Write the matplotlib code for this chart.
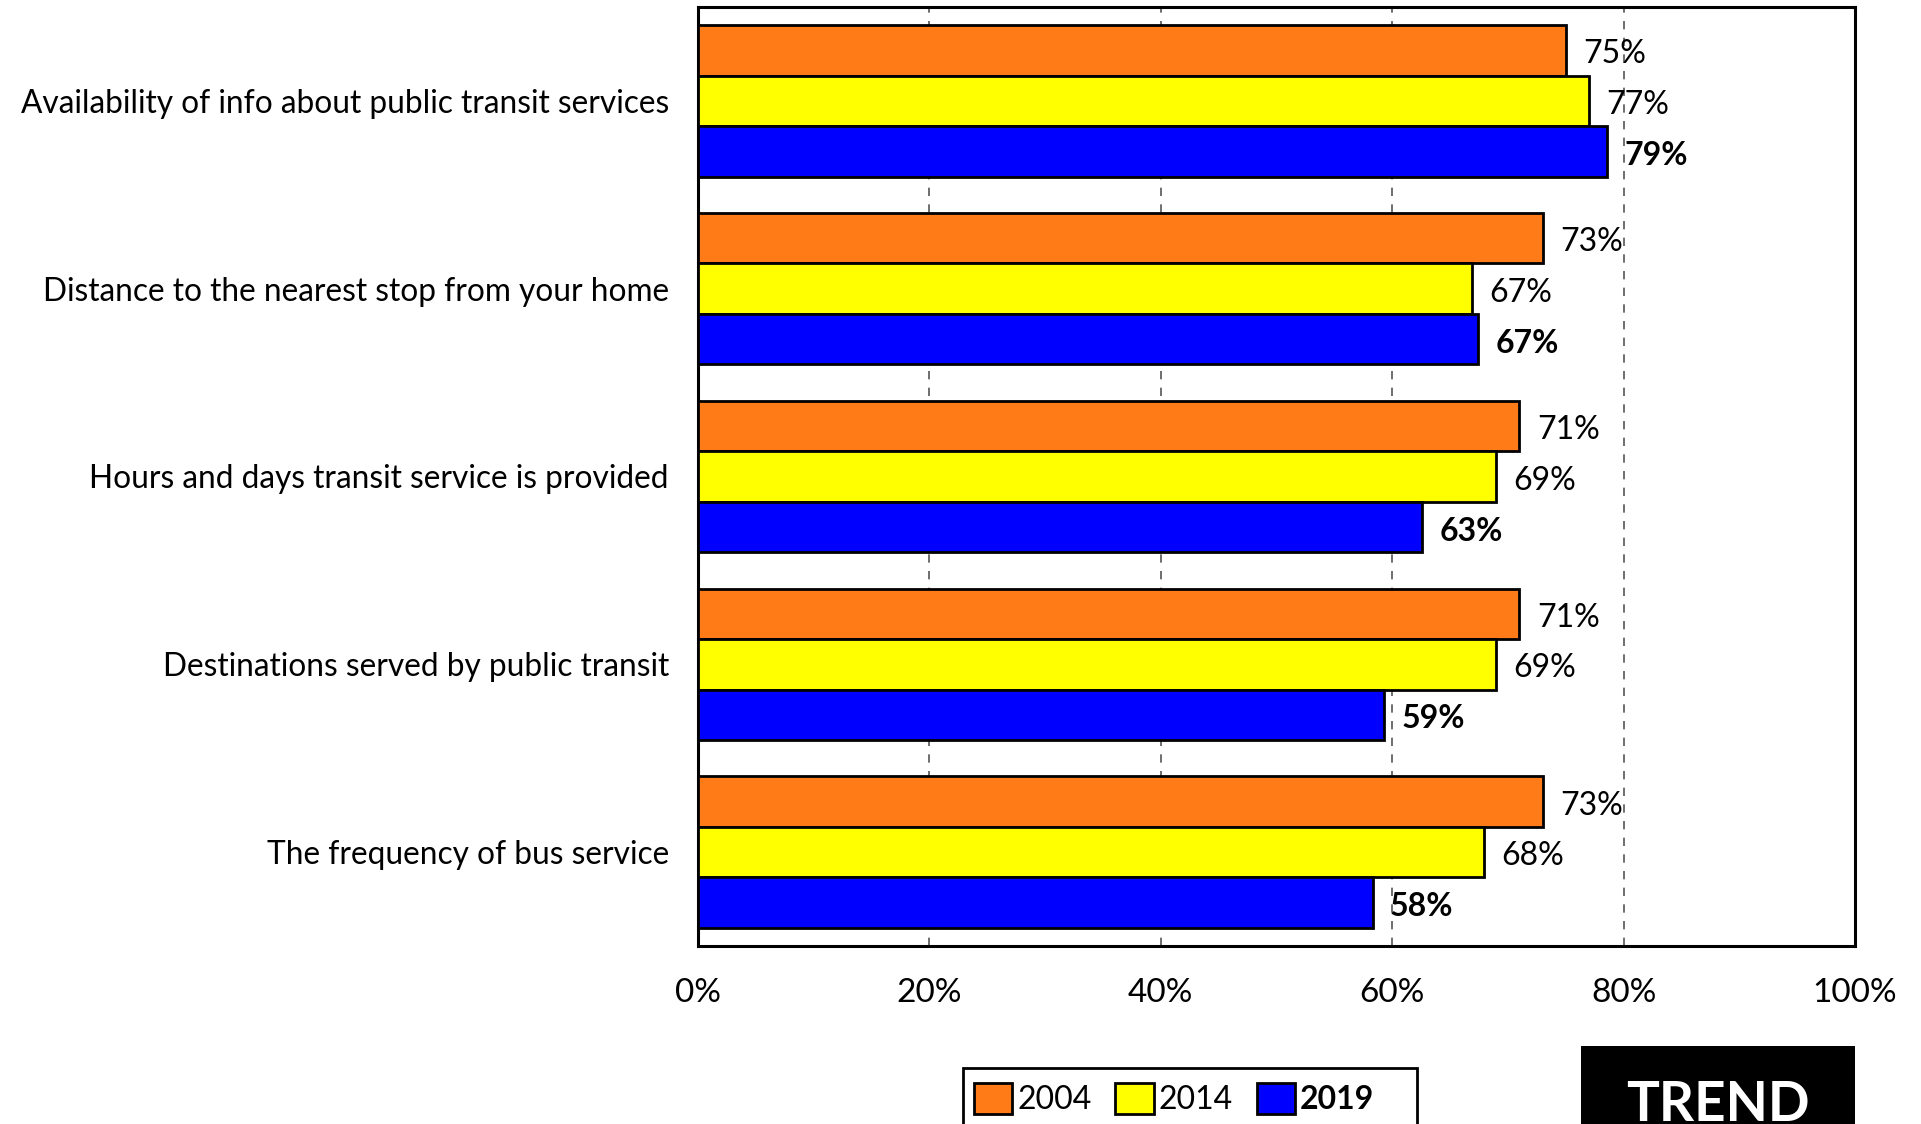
import numpy as np
import matplotlib.pyplot as plt
import matplotlib.transforms as mtransforms
from matplotlib.patches import Rectangle

plt.rcParams['font.family'] = ['Lato', 'DejaVu Sans']

categories = ["Availability of info about public transit services",
              "Distance to the nearest stop from your home",
              "Hours and days transit service is provided",
              "Destinations served by public transit",
              "The frequency of bus service"]
years = ["2004", "2014", "2019"]
v2004 = [75.0, 73.0, 71.0, 71.0, 73.0]
v2014 = [77.0, 66.9, 69.0, 69.0, 67.9]
v2019 = [78.6, 67.4, 62.6, 59.3, 58.3]
colors = ["#ff7b17", "#ffff00", "#0000ff"]
xticks = [0, 20, 40, 60, 80, 100]

fig = plt.figure(figsize=(19.21, 11.24), dpi=100)
ax = fig.add_axes([698/1921, 1-946/1124, (1855-698)/1921, (946-7)/1124])

y = np.arange(len(categories))
h = 0.269
series = [v2004, v2014, v2019]
# nudge value labels a few pixels down so they sit centred on the bars
lab_tr = ax.transData + mtransforms.ScaledTranslation(0, -4/100, fig.dpi_scale_trans)
for k, vals in enumerate(series):
    pos = y + (k - 1) * h
    ax.barh(pos, vals, height=h, color=colors[k], edgecolor='black', linewidth=2, zorder=3)
    for p, v in zip(pos, vals):
        ax.text(v + 1.5, p, f"{v:.0f}%", va='center', ha='left', fontsize=23,
                fontweight='bold' if k == 2 else 'normal', zorder=4, transform=lab_tr)

ax.set_xlim(0, 100)
ax.set_ylim(len(categories) - 0.5, -0.5)
ax.set_yticks(y)
ax.set_yticklabels(categories, fontsize=22.8)
ax.set_xticks(xticks)
ax.set_xticklabels([f"{t}%" for t in xticks], fontsize=24)
ax.tick_params(axis='y', length=0, pad=21)
ax.tick_params(axis='x', length=0, pad=23)
for x in xticks[1:-1]:
    ax.axvline(x, color='#555555', linewidth=1.2, linestyle=(0, (5, 5)), zorder=1)
for s in ax.spines.values():
    s.set_linewidth(2.2)
    s.set_color('black')

# legend box runs off the bottom edge, like the original
fig.patches.append(Rectangle((963/1921, -0.05), (1417-963)/1921, 0.05 + (1124-1068)/1124,
                             transform=fig.transFigure, facecolor='white', edgecolor='black',
                             linewidth=2))
handles = [Rectangle((0, 0), 1, 1, facecolor=c, edgecolor='black', linewidth=2) for c in colors]
leg = fig.legend(handles, years, loc='center left', bbox_to_anchor=(974/1921, 1-1099/1124),
                 ncol=3, fontsize=23, frameon=False, handlelength=1.2,
                 handleheight=1.1, handletextpad=0.15, columnspacing=0.75, borderpad=0,
                 borderaxespad=0)
leg.get_texts()[2].set_fontweight('bold')

fig.patches.append(Rectangle((1581/1921, -0.05), (1855-1581)/1921, 0.05 + (1124-1046)/1124,
                             transform=fig.transFigure, facecolor='black', edgecolor='none'))
fig.text((1581+1855)/2/1921, 1-1080/1124, "TREND", color='white', fontsize=39.5,
         fontweight='bold', ha='center', va='top')

fig.savefig("out.png", dpi=100)
